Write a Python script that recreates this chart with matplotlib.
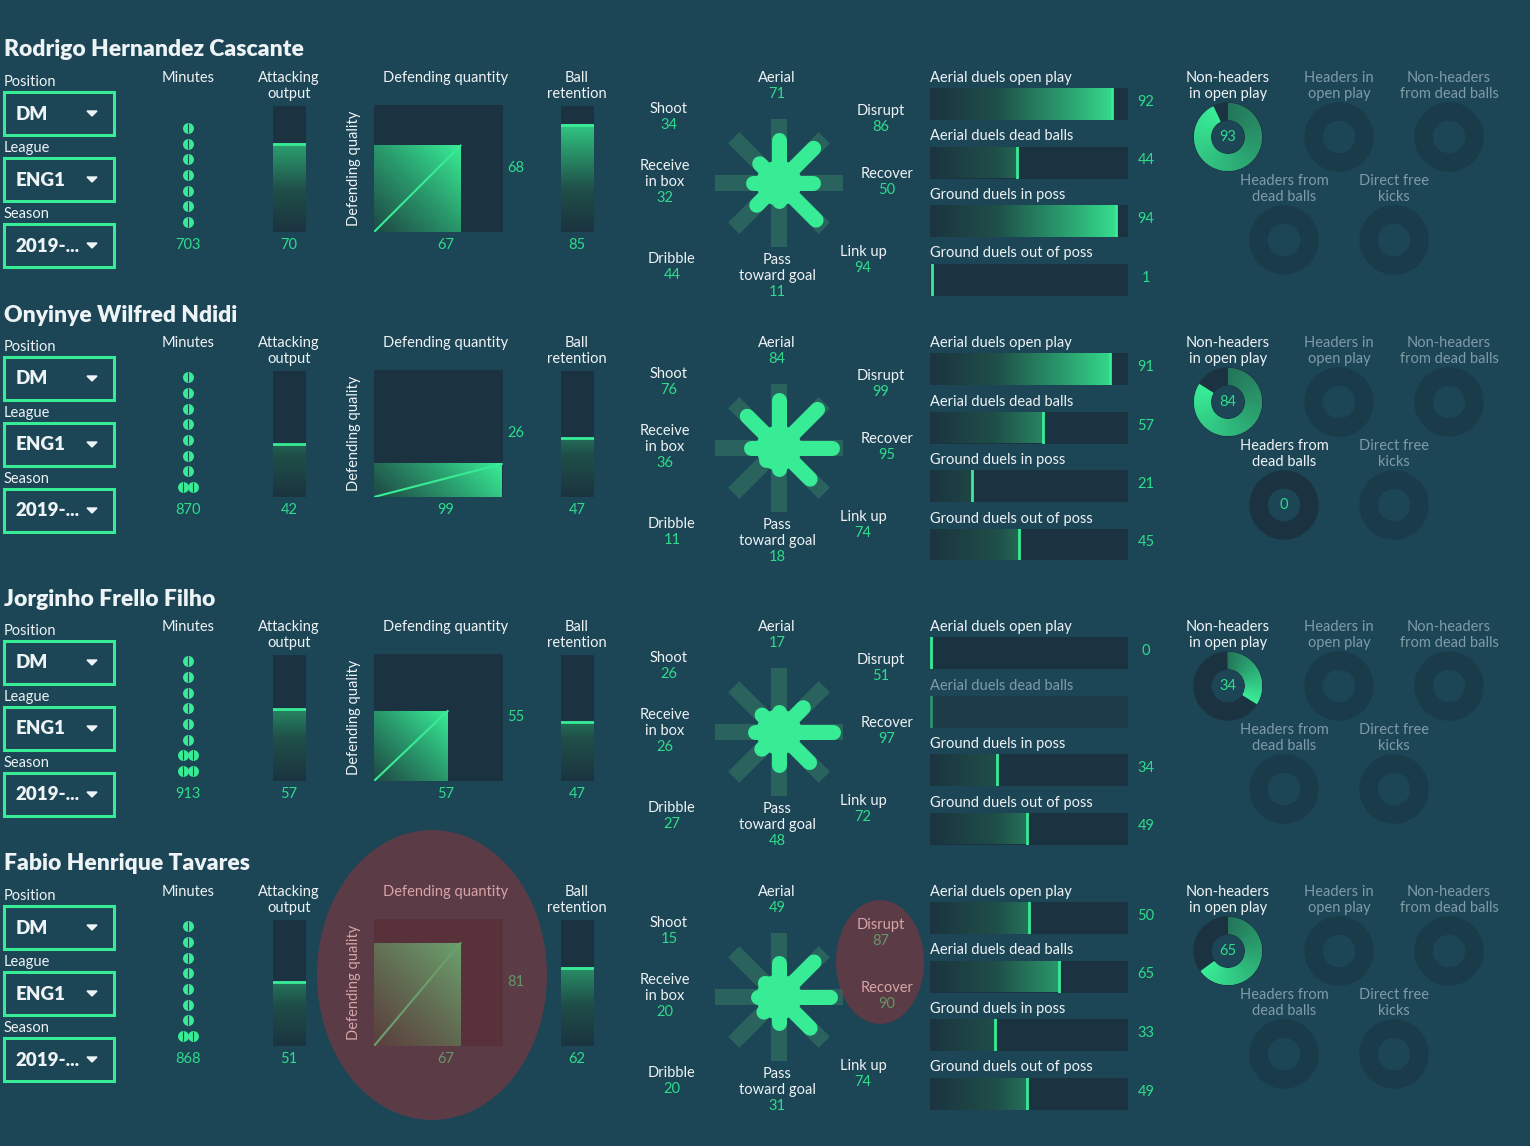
import numpy as np
import matplotlib
matplotlib.use("Agg")
import matplotlib.pyplot as plt
from matplotlib.colors import LinearSegmentedColormap
from matplotlib.patches import Rectangle, Ellipse, Wedge, Circle, Polygon

# Data
names = ["Rodrigo Hernandez Cascante", "Onyinye Wilfred Ndidi",
         "Jorginho Frello Filho", "Fabio Henrique Tavares"]
positions = ["DM", "DM", "DM", "DM"]
leagues = ["ENG1", "ENG1", "ENG1", "ENG1"]
seasons = ["2019-...", "2019-...", "2019-...", "2019-..."]
minutes = [703, 870, 913, 868]
minute_dots = [[1, 1, 1, 1, 1, 1, 1],
               [1, 1, 1, 1, 1, 1, 1, 2],
               [1, 1, 1, 1, 1, 1, 2, 2],
               [1, 1, 1, 1, 1, 1, 1, 2]]
attacking = [70, 42, 57, 51]
def_quantity = [67, 99, 57, 67]
def_quality = [68, 26, 55, 81]
ball_retention = [85, 47, 47, 62]

star_labels = ["Aerial", "Disrupt", "Recover", "Link up",
               "Pass\ntoward goal", "Dribble", "Receive\nin box", "Shoot"]
star_angles = [90, 45, 0, -45, -90, -135, 180, 135]
star_values = [[71, 86, 50, 94, 11, 44, 32, 34],
               [84, 99, 95, 74, 18, 11, 36, 76],
               [17, 51, 97, 72, 48, 27, 26, 26],
               [49, 87, 90, 74, 31, 20, 20, 15]]

duel_labels = ["Aerial duels open play", "Aerial duels dead balls",
               "Ground duels in poss", "Ground duels out of poss"]
duel_values = [[92, 44, 94, 1],
               [91, 57, 21, 45],
               [0, None, 34, 49],
               [50, 65, 33, 49]]

shot_labels = ["Non-headers\nin open play", "Headers in\nopen play",
               "Non-headers\nfrom dead balls", "Headers from\ndead balls",
               "Direct free\nkicks"]
shot_values = [[93, None, None, None, None],
               [84, None, None, 0, None],
               [34, None, None, None, None],
               [65, None, None, None, None]]

# Style
W, H = 1530, 1146
BG = "#1c4556"
PANEL = "#1b3341"
RING = "#1a3b4a"
GREEN = "#38ec96"
VALUE = "#2fdc8a"
WHITE = "#eef3f5"
GREY = "#7f9ba7"
ARM_BG = "#2a625e"
cmap = LinearSegmentedColormap.from_list(
    "g", ["#1b3440", "#1f4f48", "#2a9a6c", "#38ec96"])

plt.rcParams["font.family"] = ["Lato", "DejaVu Sans"]
FS = 10.5

fig = plt.figure(figsize=(W / 100, H / 100), dpi=100, facecolor=BG)

bg = fig.add_axes([0, 0, 1, 1])
bg.set_xlim(0, W)
bg.set_ylim(H, 0)
bg.set_axis_off()


def add_ax(x, y, w, h, z=1):
    ax = fig.add_axes([x / W, 1 - (y + h) / H, w / W, h / H], zorder=z)
    ax.set_axis_off()
    ax.patch.set_alpha(0)
    return ax


def stack(x, y, lines, colors, size=FS, ha="center"):
    for i, (s, c) in enumerate(zip(lines, colors)):
        bg.text(x, y + 16 * i, s, color=c, fontsize=size, ha=ha, va="center")


star_pos = [(777, 78), (881, 111), (887, 174), (863, 252),
            (777, 260), (672, 259), (665, 166), (669, 109)]
donut_pos = [(1228, 137), (1339, 137), (1449, 137), (1284, 240), (1394, 240)]
name_y = [50, 315, 599, 864]

for p in range(4):
    dy = name_y[p] - 50

    # name and dropdowns
    bg.text(4, 50 + dy, names[p], color=WHITE, fontsize=16.5,
            fontweight="heavy", va="center")
    for k, (lab, val) in enumerate(zip(["Position", "League", "Season"],
                                       [positions[p], leagues[p], seasons[p]])):
        oy = dy + 66 * k
        bg.text(4, 82 + oy, lab, color=WHITE, fontsize=FS, va="center")
        bg.add_patch(Rectangle((4, 92 + oy), 110, 43, fill=False,
                               edgecolor=GREEN, lw=2.2))
        bg.text(16, 114 + oy, val, color=WHITE, fontsize=13.5,
                fontweight="heavy", va="center")
        bg.add_patch(Polygon([(87, 111 + oy), (97, 111 + oy), (92, 116 + oy)],
                             color=WHITE))

    # minutes
    stack(188, 78 + dy, ["Minutes"], [WHITE])
    ax = add_ax(160, 80 + dy, 56, 150)
    rows = minute_dots[p]
    xs, ys = [], []
    for k, c in enumerate(rows):
        for j in range(c):
            xs.append((j - (c - 1) / 2) * 10)
            ys.append(len(rows) - 1 - k)
    ax.scatter(xs, ys, s=62, color=GREEN, linewidths=0)
    ax.scatter(xs, ys, s=44, marker="|", color=BG, linewidths=0.8)
    ax.set_xlim(-28, 28)
    ax.set_ylim(-8 / 15.7, 142 / 15.7)
    stack(188, 245 + dy, [str(minutes[p])], [VALUE])

    # vertical bars
    for cx, lab, v in [(289, ["Attacking", "output"], attacking[p]),
                       (577, ["Ball", "retention"], ball_retention[p])]:
        stack(cx, 78 + dy, lab, [WHITE, WHITE])
        ax = add_ax(cx - 16, 106 + dy, 33, 126)
        ax.bar(0.5, 100, width=1, color=PANEL, zorder=1)
        grad = np.linspace(0, v / 100, 64)[:, None]
        ax.imshow(grad, extent=(0, 1, 0, v), origin="lower", cmap=cmap,
                  vmin=0, vmax=1, aspect="auto", zorder=2)
        ax.plot([0, 1], [v, v], color=GREEN, lw=2, zorder=3)
        ax.set_xlim(0, 1)
        ax.set_ylim(0, 100)
        stack(cx, 245 + dy, [str(v)], [VALUE])

    # defending square
    stack(446, 78 + dy, ["Defending quantity"], [WHITE])
    bg.text(354, 168 + dy, "Defending quality", color=WHITE, fontsize=FS,
            rotation=90, ha="center", va="center")
    qx, qy = def_quantity[p], def_quality[p]
    ax = add_ax(374, 105 + dy, 129, 127)
    ax.bar(50, 100, width=100, color=PANEL, zorder=1)
    X, Y = np.meshgrid(np.linspace(0, qx, 80), np.linspace(0, qy, 80))
    grad = 0.3 + 0.7 * (X + Y) / (qx + qy)
    ax.imshow(grad, extent=(0, qx, 0, qy), origin="lower", cmap=cmap,
              vmin=0, vmax=1, aspect="auto", zorder=2)
    ax.plot([0, qx], [0, qy], color=GREEN, lw=1.5, zorder=3)
    ax.set_xlim(0, 100)
    ax.set_ylim(0, 100)
    stack(516, 168 + dy, [str(qy)], [VALUE])
    stack(446, 245 + dy, [str(qx)], [VALUE])

    # star
    ax = add_ax(699, 103 + dy, 160, 160)
    for a in star_angles:
        t = np.radians(a)
        ax.plot([0, 64 * np.cos(t)], [0, 64 * np.sin(t)], color=ARM_BG,
                lw=16 * 0.72, solid_capstyle="butt")
    ax.add_patch(Circle((0, 0), 22, color=GREEN, zorder=3))
    for a, v in zip(star_angles, star_values[p]):
        t = np.radians(a)
        r = 13 + 0.42 * v
        ax.plot([0, r * np.cos(t)], [0, r * np.sin(t)], color=GREEN,
                lw=15 * 0.72, solid_capstyle="round", zorder=3)
    ax.set_xlim(-80, 80)
    ax.set_ylim(-80, 80)
    ax.set_aspect("equal")
    for (x, y), lab, v in zip(star_pos, star_labels, star_values[p]):
        lines = lab.split("\n") + [str(v)]
        stack(x, y + dy, lines, [WHITE] * (len(lines) - 1) + [VALUE])

    # duel bars
    for k, (lab, v) in enumerate(zip(duel_labels, duel_values[p])):
        ty = 78 + dy + 58.5 * k
        bg.text(930, ty, lab, color=WHITE if v is not None else GREY,
                fontsize=FS, va="center")
        ax = add_ax(930, ty + 10, 198, 32)
        ax.barh(0.5, 100, height=1, zorder=1,
                color=PANEL if v is not None else "#1e3c4a")
        if v is None:
            ax.plot([0.6, 0.6], [0, 1], color=GREEN, lw=2, alpha=0.5, zorder=3)
        else:
            if v > 0:
                grad = np.linspace(0, v / 100, 64)[None, :]
                ax.imshow(grad, extent=(0, v, 0, 1), origin="lower",
                          cmap=cmap, vmin=0, vmax=1, aspect="auto", zorder=2)
            ax.plot([max(v, 0.6)] * 2, [0, 1], color=GREEN, lw=2, zorder=3)
            bg.text(1146, ty + 24, str(v), color=VALUE, fontsize=FS,
                    ha="center", va="center")
        ax.set_xlim(0, 100)
        ax.set_ylim(0, 1)

    # shot donuts
    for k, ((cx, cy), lab, v) in enumerate(zip(donut_pos, shot_labels,
                                               shot_values[p])):
        lines = lab.split("\n")
        ly = 78 if k < 3 else 181
        stack(cx, ly + dy, lines, [WHITE if v is not None else GREY] * 2)
        ax = add_ax(cx - 36, cy - 36 + dy, 72, 72)
        if v is None:
            ax.add_patch(Wedge((0, 0), 34, 0, 360, width=17, color=RING))
        else:
            ax.add_patch(Wedge((0, 0), 34, 0, 360, width=17, color=PANEL))
            n = 90
            f = v / 100
            for i in range(n if v > 0 else 0):
                t2 = 90 - 360 * f * i / n
                t1 = 90 - 360 * f * (i + 1) / n
                ext = 2.5 if i > 0 else 0
                ax.add_patch(Wedge((0, 0), 34, t1, t2 + ext, width=17,
                                   color=cmap(0.5 + 0.5 * i / n), lw=0))
            ax.text(0, 0, str(v), color=VALUE, fontsize=FS,
                    ha="center", va="center")
        ax.set_xlim(-36, 36)
        ax.set_ylim(-36, 36)
        ax.set_aspect("equal")

# highlight overlays on the last player
ov = add_ax(0, 0, W, H, z=10)
ov.set_xlim(0, W)
ov.set_ylim(H, 0)
ov.add_patch(Ellipse((432, 975), 230, 290, color="#b82e30", alpha=0.4, lw=0))
ov.add_patch(Ellipse((880, 962), 88, 124, color="#b82e30", alpha=0.4, lw=0))

fig.savefig("out.png", dpi=100, facecolor=BG)
